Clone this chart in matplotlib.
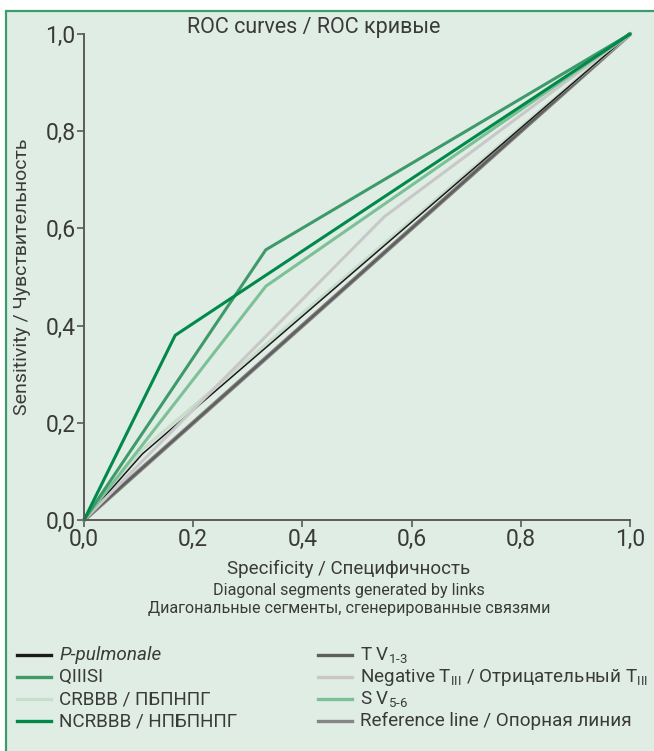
import matplotlib
matplotlib.use('Agg')
import matplotlib.pyplot as plt
import matplotlib.ticker as ticker
from matplotlib.patches import Rectangle
from matplotlib.lines import Line2D

# ROC curves (1 - specificity on x, sensitivity on y)
p_pulm_x = [0.0, 0.107, 1.0]
p_pulm_y = [0.0, 0.136, 1.0]
qiiisi_x = [0.0, 0.333, 1.0]
qiiisi_y = [0.0, 0.556, 1.0]
crbbb_x = [0.0, 0.107, 1.0]
crbbb_y = [0.0, 0.145, 1.0]
ncrbbb_x = [0.0, 0.167, 1.0]
ncrbbb_y = [0.0, 0.380, 1.0]
tv13_x = [0.0, 1.0]
tv13_y = [0.0, 1.0]
negt_x = [0.0, 0.55, 1.0]
negt_y = [0.0, 0.624, 1.0]
sv56_x = [0.0, 0.333, 1.0]
sv56_y = [0.0, 0.481, 1.0]
ref_x = [0.0, 1.0]
ref_y = [0.0, 1.0]

ticks = [0.0, 0.2, 0.4, 0.6, 0.8, 1.0]

bg = '#e0ede5'
border = '#3b9d6c'
axc = '#5a5a5a'
txt = '#3a3a3a'

plt.rcParams['font.family'] = ['Roboto', 'DejaVu Sans']
plt.rcParams['mathtext.default'] = 'regular'

fig = plt.figure(figsize=(6.54, 7.51), dpi=100)
fig.patch.set_facecolor('white')
fig.patches.append(Rectangle((6 / 654, -0.01), 1.0, 1 - 11 / 751 + 0.01,
                             transform=fig.transFigure, facecolor=bg,
                             edgecolor=border, linewidth=1.6, zorder=-5))

ax = fig.add_axes([84 / 654, 1 - 520 / 751, 546 / 654, 486 / 751])
ax.set_facecolor('none')

# style per series: (x, y, colour, width, label)
series = [
    (ref_x, ref_y, '#858585', 3.2, 'Reference line / Опорная линия'),
    (tv13_x, tv13_y, '#5e5e5e', 1.6, 'T V$_{1\u20113}$'),
    (crbbb_x, crbbb_y, '#c9ddcc', 2.2, 'CRBBB / ПБПНПГ'),
    (p_pulm_x, p_pulm_y, '#1a1a1a', 1.1, 'P-pulmonale'),
    (negt_x, negt_y, '#c8c8c8', 2.2, 'Negative T$_{III}$ / Отрицательный T$_{III}$'),
    (sv56_x, sv56_y, '#7cc096', 2.2, 'S V$_{5\u20116}$'),
    (qiiisi_x, qiiisi_y, '#3e9a6b', 2.2, 'QIIISI'),
    (ncrbbb_x, ncrbbb_y, '#00894a', 2.2, 'NCRBBB / НПБПНПГ'),
]
for x, y, c, w, lab in series:
    ax.plot(x, y, color=c, linewidth=w, solid_capstyle='round', clip_on=False)

ax.set_xlim(0, 1)
ax.set_ylim(0, 1)
for s in ['top', 'right']:
    ax.spines[s].set_visible(False)
for s in ['left', 'bottom']:
    ax.spines[s].set_color(axc)
    ax.spines[s].set_linewidth(1.4)
ax.set_xticks(ticks)
ax.set_yticks(ticks)
fmt = ticker.FuncFormatter(lambda v, p: ('%.1f' % v).replace('.', ','))
ax.xaxis.set_major_formatter(fmt)
ax.yaxis.set_major_formatter(fmt)
ax.tick_params(colors=axc, labelcolor=txt, labelsize=16.5, length=5, width=1.2, pad=1)

fig.text(314 / 654, 1 - 28 / 751, 'ROC curves / ROC кривые', ha='center', va='center',
         fontsize=15.5, color=txt)
fig.text(22 / 654, 1 - 277 / 751, 'Sensitivity / Чувствительность', ha='center', va='center',
         rotation=90, fontsize=14, color=txt)
fig.text(349 / 654, 1 - 569 / 751, 'Specificity / Специфичность', ha='center', va='center',
         fontsize=13.5, color=txt)
fig.text(349 / 654, 1 - 590 / 751, 'Diagonal segments generated by links', ha='center',
         va='center', fontsize=11.6, color=txt)
fig.text(349 / 654, 1 - 609 / 751, 'Диагональные сегменты, сгенерированные связями',
         ha='center', va='center', fontsize=11.6, color=txt)

# legend, two columns, order as in the picture
legend_order = [(3, True), (6, False), (2, False), (7, False),
                (1, False), (4, False), (5, False), (0, False)]
rows_y = [655, 677, 699, 721]
for i, (idx, ital) in enumerate(legend_order):
    col = i // 4
    row = i % 4
    x0 = 17 if col == 0 else 318
    y0 = 1 - rows_y[row] / 751
    c = series[idx][2]
    fig.lines.append(Line2D([x0 / 654, (x0 + 34) / 654], [y0, y0], transform=fig.transFigure,
                            color=c, linewidth=2.4))
    fig.text((x0 + 42) / 654, y0, series[idx][4], ha='left', va='center', fontsize=13.6,
             color=txt, style='italic' if ital else 'normal')

fig.savefig('out.png', dpi=100, facecolor=fig.get_facecolor())
